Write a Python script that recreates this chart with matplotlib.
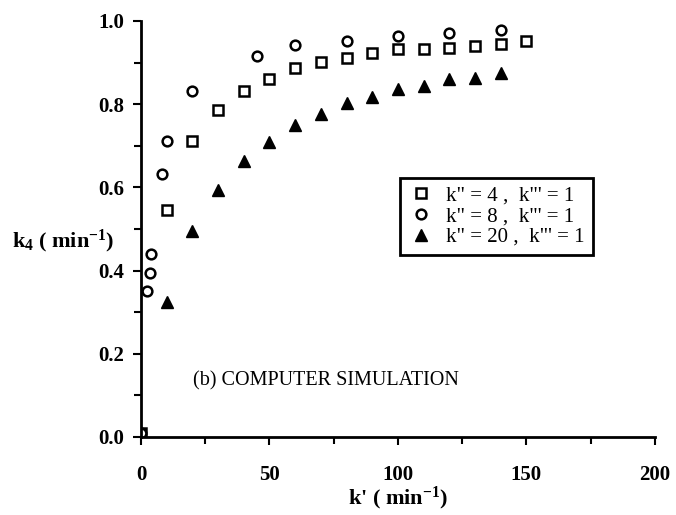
import matplotlib
matplotlib.use("Agg")
import matplotlib.pyplot as plt
from matplotlib.ticker import MultipleLocator, FormatStrFormatter

# k4 from the simulation for three values of k'' (k''' = 1)
x_sq = [0, 10, 20, 30, 40, 50, 60, 70, 80, 90, 100, 110, 120, 130, 140, 150]
y_sq = [0.01, 0.545, 0.711, 0.786, 0.832, 0.861, 0.886, 0.902, 0.912, 0.924,
        0.932, 0.932, 0.936, 0.941, 0.945, 0.952]

x_ci = [0, 2.5, 3.5, 4, 8, 10, 20, 45, 60, 80, 100, 120, 140]
y_ci = [0.01, 0.35, 0.393, 0.44, 0.632, 0.711, 0.832, 0.916, 0.942, 0.953,
        0.965, 0.972, 0.978]

x_tr = [10, 20, 30, 40, 50, 60, 70, 80, 90, 100, 110, 120, 130, 140]
y_tr = [0.325, 0.494, 0.594, 0.664, 0.71, 0.751, 0.776, 0.802, 0.818, 0.836,
        0.844, 0.86, 0.864, 0.874]

labels = ['k" = 4 ,  k"\' = 1', 'k" = 8 ,  k"\' = 1', 'k" = 20 ,  k"\' = 1']

plt.rcParams["font.family"] = "Liberation Serif"
plt.rcParams["mathtext.fontset"] = "custom"
plt.rcParams["mathtext.rm"] = "Liberation Serif:bold"
plt.rcParams["mathtext.default"] = "rm"

fig = plt.figure(figsize=(6.76, 5.15), dpi=100)
ax = fig.add_axes([0.2086, 0.1515, 0.760, 0.8078])

mk = dict(linestyle="none", markersize=7, markeredgewidth=1.8, color="black")
ax.plot(x_sq, y_sq, marker="s", markerfacecolor="white", label=labels[0], **mk)
ax.plot(x_ci, y_ci, marker="o", markerfacecolor="white", label=labels[1], **mk)
ax.plot(x_tr, y_tr, marker="^", markerfacecolor="black", label=labels[2],
        linestyle="none", markersize=8, color="black")

ax.set_xlim(0, 200)
ax.set_ylim(0, 1.0)
ax.xaxis.set_major_locator(MultipleLocator(50))
ax.xaxis.set_minor_locator(MultipleLocator(25))
ax.yaxis.set_major_locator(MultipleLocator(0.2))
ax.yaxis.set_minor_locator(MultipleLocator(0.1))
ax.yaxis.set_major_formatter(FormatStrFormatter("%.1f"))

for side in ["top", "right"]:
	ax.spines[side].set_visible(False)
for side in ["left", "bottom"]:
	ax.spines[side].set_linewidth(2)

ax.tick_params(which="both", direction="out", width=1.5, labelsize=15)
ax.tick_params(axis="x", pad=14)
ax.tick_params(axis="y", pad=6)
ax.tick_params(which="major", length=6)
ax.tick_params(which="minor", length=5)
for lab in ax.get_xticklabels() + ax.get_yticklabels():
	lab.set_fontweight("bold")

ax.set_xlabel("k' ( min$^{-1}$)", fontsize=16, fontweight="bold", labelpad=0)
ax.text(-0.152, 0.47, "k$_4$ ( min$^{-1}$)", transform=ax.transAxes, fontsize=16,
        fontweight="bold", ha="center", va="center")

ax.text(0.36, 0.135, "(b) COMPUTER SIMULATION", transform=ax.transAxes,
        fontsize=14.5, ha="center", va="center")

legend = ax.legend(loc="upper left", bbox_to_anchor=(0.504, 0.623), borderaxespad=0,
                   fontsize=15, fancybox=False, framealpha=1, edgecolor="black",
                   handletextpad=0.6, labelspacing=0.05, borderpad=0.4,
                   handlelength=1.2)
legend.get_frame().set_linewidth(2)

plt.savefig("out.png", dpi=100)
plt.close()
